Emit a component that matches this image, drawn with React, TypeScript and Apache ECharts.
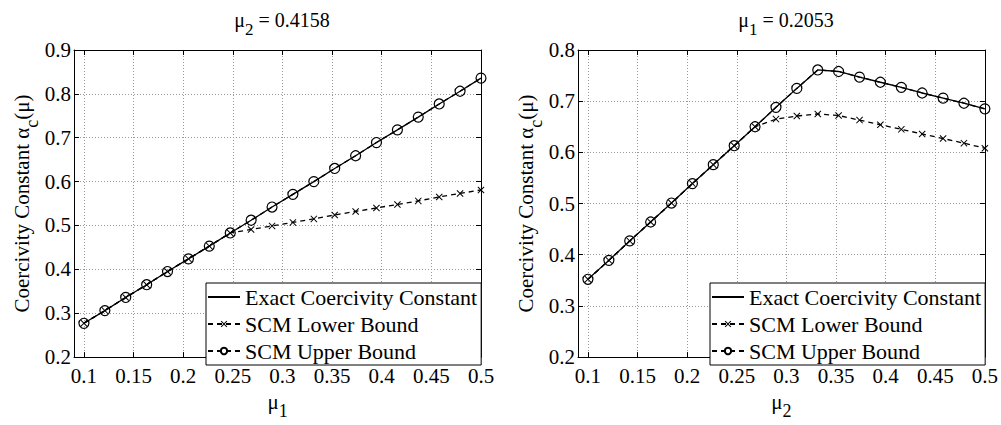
import React, { useEffect, useRef } from 'react';
import * as echarts from 'echarts';

const muGrid = [0.1, 0.1211, 0.1421, 0.1632, 0.1842, 0.2053, 0.2263, 0.2474, 0.2684, 0.2895, 0.3105, 0.3316, 0.3526, 0.3737, 0.3947, 0.4158, 0.4368, 0.4579, 0.4789, 0.5];

const leftExact = [0.277, 0.306, 0.336, 0.365, 0.395, 0.424, 0.453, 0.483, 0.512, 0.542, 0.571, 0.600, 0.630, 0.659, 0.689, 0.718, 0.747, 0.777, 0.806, 0.836];
const leftLower = [0.277, 0.306, 0.336, 0.365, 0.395, 0.424, 0.453, 0.483, 0.491, 0.499, 0.507, 0.515, 0.524, 0.532, 0.540, 0.548, 0.556, 0.565, 0.573, 0.581];
const leftUpper = [0.277, 0.306, 0.336, 0.365, 0.395, 0.424, 0.453, 0.483, 0.512, 0.542, 0.571, 0.600, 0.630, 0.659, 0.689, 0.718, 0.747, 0.777, 0.806, 0.836];

const rightExact = [0.352, 0.389, 0.427, 0.464, 0.501, 0.539, 0.576, 0.613, 0.650, 0.688, 0.725, 0.761, 0.758, 0.747, 0.737, 0.727, 0.716, 0.706, 0.696, 0.685];
const rightLower = [0.352, 0.389, 0.427, 0.464, 0.501, 0.539, 0.576, 0.613, 0.650, 0.665, 0.671, 0.675, 0.672, 0.663, 0.654, 0.645, 0.636, 0.627, 0.618, 0.608];
const rightUpper = [0.352, 0.389, 0.427, 0.464, 0.501, 0.539, 0.576, 0.613, 0.650, 0.688, 0.725, 0.761, 0.758, 0.747, 0.737, 0.727, 0.716, 0.706, 0.696, 0.685];

const xTicks = [0.1, 0.15, 0.2, 0.25, 0.3, 0.35, 0.4, 0.45, 0.5];
const seriesNames = ['Exact Coercivity Constant', 'SCM Lower Bound', 'SCM Upper Bound'];
const leftTitle = { sub: '2', value: '0.4158' };
const rightTitle = { sub: '1', value: '0.2053' };
const leftXName = '1';
const rightXName = '2';

const FONT = 'Liberation Serif';
const CROSS = 'path://M1,0 L5,4 L9,0 L10,1 L6,5 L10,9 L9,10 L5,6 L1,10 L0,9 L4,5 L0,1 Z';

const pairs = (ys: number[]) => ys.map((y, i) => [muGrid[i], y]);

const mainRich = {
  m: { fontFamily: FONT, fontSize: 21, fontWeight: 'normal', color: '#000', lineHeight: 21, verticalAlign: 'top' as const },
  s: { fontFamily: FONT, fontSize: 18, fontWeight: 'normal', color: '#000', lineHeight: 18, verticalAlign: 'top' as const, padding: [11, 0, 0, 0] },
};
const titleRich = {
  m: { fontFamily: FONT, fontSize: 20, fontWeight: 'normal', color: '#000', lineHeight: 20, verticalAlign: 'top' as const },
  s: { fontFamily: FONT, fontSize: 17, fontWeight: 'normal', color: '#000', lineHeight: 17, verticalAlign: 'top' as const, padding: [11, 0, 0, 0] },
};

function buildAxes(gridIndex: number, yMax: number) {
  const x = [
    {
      type: 'value', gridIndex, position: 'bottom', min: 0.09, max: 0.5,
      name: `{m|μ}{s|${gridIndex === 0 ? leftXName : rightXName}}`,
      nameLocation: 'middle', nameGap: 29,
      nameTextStyle: { fontFamily: FONT, rich: mainRich },
      axisLine: { show: true, onZero: false, lineStyle: { color: '#000', width: 1 } },
      axisTick: { show: true, inside: true, length: 5, customValues: xTicks, lineStyle: { color: '#000' } },
      axisLabel: { show: true, customValues: xTicks, margin: 8, fontFamily: FONT, fontSize: 21, color: '#000' },
      splitLine: { show: true, lineStyle: { color: '#999', type: [1, 2], width: 1 } },
    },
    {
      type: 'value', gridIndex, position: 'top', min: 0.09, max: 0.5,
      axisLine: { show: true, onZero: false, lineStyle: { color: '#000', width: 1 } },
      axisTick: { show: true, inside: true, length: 5, customValues: xTicks, lineStyle: { color: '#000' } },
      axisLabel: { show: false, customValues: xTicks },
      splitLine: { show: false },
    },
  ];
  const y = [
    {
      type: 'value', gridIndex, position: 'left', min: 0.2, max: yMax, interval: 0.1,
      name: '{m|Coercivity Constant α}{s|c}{m|(μ)}',
      nameLocation: 'middle', nameGap: 36,
      nameTextStyle: { fontFamily: FONT, rich: mainRich },
      axisLine: { show: true, onZero: false, lineStyle: { color: '#000', width: 1 } },
      axisTick: { show: true, inside: true, length: 5, lineStyle: { color: '#000' } },
      axisLabel: { show: true, margin: 3, fontFamily: FONT, fontSize: 21, color: '#000', formatter: (v: number) => v.toFixed(1) },
      splitLine: { show: true, lineStyle: { color: '#999', type: [1, 2], width: 1 } },
    },
    {
      type: 'value', gridIndex, position: 'right', min: 0.2, max: yMax, interval: 0.1,
      axisLine: { show: true, onZero: false, lineStyle: { color: '#000', width: 1 } },
      axisTick: { show: true, inside: true, length: 5, lineStyle: { color: '#000' } },
      axisLabel: { show: false },
      splitLine: { show: false },
    },
  ];
  return { x, y };
}

function buildSeries(axisIndex: number, exact: number[], lower: number[], upper: number[]) {
  return [
    {
      name: seriesNames[0], type: 'line', xAxisIndex: axisIndex, yAxisIndex: axisIndex,
      data: pairs(exact), showSymbol: false, symbol: 'circle', symbolSize: 1,
      lineStyle: { color: '#000', width: 1.3, type: 'solid' },
      itemStyle: { color: 'rgba(0,0,0,0)', borderWidth: 0 }, z: 2,
    },
    {
      name: seriesNames[1], type: 'line', xAxisIndex: axisIndex, yAxisIndex: axisIndex,
      data: pairs(lower), symbol: CROSS, symbolSize: 7,
      lineStyle: { color: '#000', width: 1.3, type: [5, 4] }, itemStyle: { color: '#000' }, z: 3,
    },
    {
      name: seriesNames[2], type: 'line', xAxisIndex: axisIndex, yAxisIndex: axisIndex,
      data: pairs(upper), symbol: 'circle', symbolSize: 10,
      lineStyle: { color: '#000', width: 1.3, type: [5, 4] },
      itemStyle: { color: 'rgba(0,0,0,0)', borderColor: '#000', borderWidth: 1.2 }, z: 4,
    },
  ];
}

function legendAt(left: number) {
  return {
    left, top: 283, orient: 'vertical', backgroundColor: '#fff', borderColor: '#000', borderWidth: 1,
    padding: [3, 4, 3, 1], itemGap: 5, itemWidth: 32, itemHeight: 8,
    textStyle: { fontFamily: FONT, fontSize: 22, color: '#000' },
    data: seriesNames, selectedMode: false,
  };
}

export default function App() {
  const ref = useRef<HTMLDivElement>(null);
  useEffect(() => {
    if (!ref.current) return;
    const chart = echarts.init(ref.current, undefined, { renderer: 'svg' });
    const a = buildAxes(0, 0.9);
    const b = buildAxes(1, 0.8);
    chart.setOption({
      animation: false,
      backgroundColor: '#fff',
      textStyle: { fontFamily: FONT },
      title: [
        { text: `{m|μ}{s|${leftTitle.sub}}{m| = ${leftTitle.value}}`, left: 277, top: 5, textAlign: 'center', textStyle: { fontFamily: FONT, fontWeight: 'normal', rich: titleRich } },
        { text: `{m|μ}{s|${rightTitle.sub}}{m| = ${rightTitle.value}}`, left: 781, top: 5, textAlign: 'center', textStyle: { fontFamily: FONT, fontWeight: 'normal', rich: titleRich } },
      ],
      grid: [
        { left: 74, top: 50, width: 407, height: 320 },
        { left: 578, top: 50, width: 407, height: 320 },
      ],
      xAxis: [...a.x, ...b.x],
      yAxis: [...a.y, ...b.y],
      legend: [legendAt(206), legendAt(710)],
      series: [
        ...buildSeries(0, leftExact, leftLower, leftUpper),
        ...buildSeries(2, rightExact, rightLower, rightUpper),
      ],
    });
    return () => chart.dispose();
  }, []);
  return <div ref={ref} style={{ position: 'fixed', left: 0, top: 0, width: 1001, height: 425 }} />;
}
